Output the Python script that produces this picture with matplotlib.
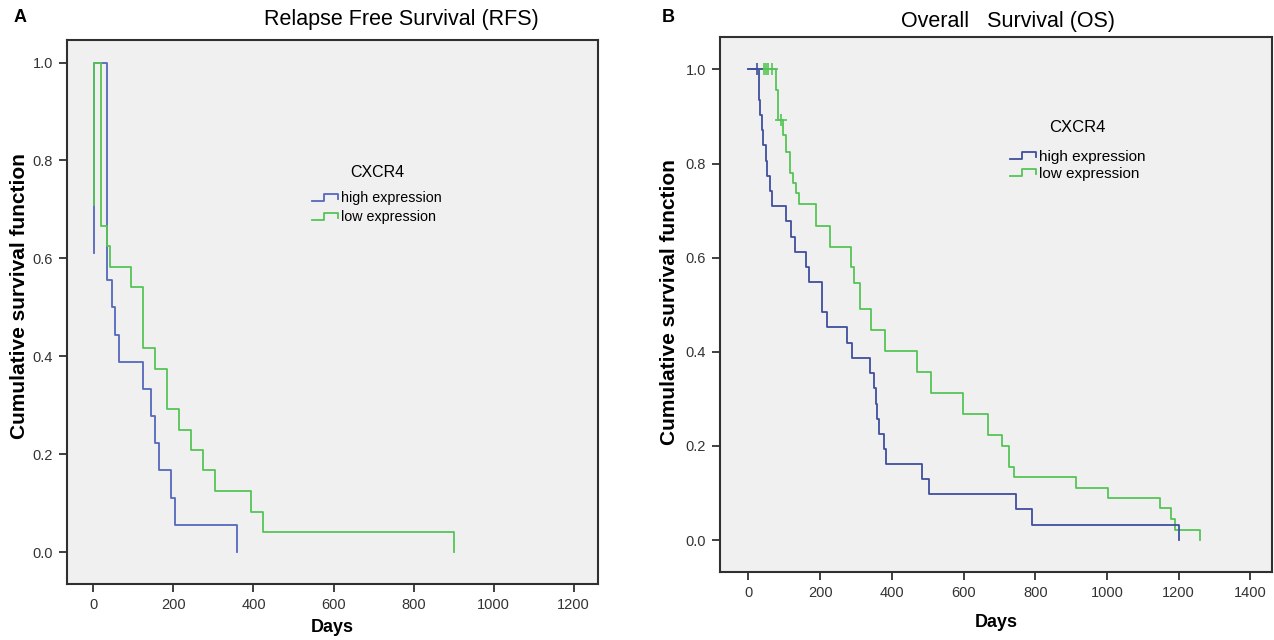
import numpy as np
import matplotlib.pyplot as plt
from matplotlib.lines import Line2D
from matplotlib.legend_handler import HandlerBase

plt.rcParams['font.family'] = ['Liberation Sans', 'DejaVu Sans']

#### data
# A: relapse free survival
rfs_high_t = [2, 2, 34, 47, 53, 64, 125, 144, 154, 164, 194, 205, 360]
rfs_high_s = [0.61, 1.0, 0.556, 0.5, 0.444, 0.389, 0.333, 0.278, 0.222, 0.167, 0.111, 0.056, 0.0]
rfs_low_t = [2, 2, 19, 34, 41, 94, 125, 155, 184, 214, 245, 275, 305, 395, 425, 900]
rfs_low_s = [0.71, 1.0, 0.667, 0.625, 0.583, 0.542, 0.417, 0.375, 0.292, 0.25, 0.208, 0.167,
             0.125, 0.083, 0.042, 0.0]

# B: overall survival
os_high_t = [0, 30, 33, 37, 41, 49, 53, 60, 66, 106, 120, 131, 160, 168, 204, 218, 274, 288,
             340, 350, 355, 360, 365, 379, 385, 483, 503, 745, 792, 1201]
os_high_s = [1.0, 0.935, 0.903, 0.871, 0.839, 0.806, 0.774, 0.742, 0.710, 0.677, 0.645, 0.613,
             0.581, 0.548, 0.484, 0.452, 0.419, 0.387, 0.355, 0.323, 0.290, 0.258, 0.226, 0.194,
             0.161, 0.129, 0.097, 0.065, 0.032, 0.0]
os_low_t = [0, 76, 83, 97, 105, 116, 125, 134, 142, 188, 227, 285, 294, 311, 343, 381, 469, 508,
            599, 669, 706, 727, 741, 913, 1003, 1148, 1178, 1189, 1259]
os_low_s = [1.0, 0.956, 0.893, 0.861, 0.825, 0.779, 0.758, 0.737, 0.714, 0.667, 0.623, 0.581,
            0.546, 0.49, 0.446, 0.402, 0.357, 0.312, 0.268, 0.223, 0.2, 0.156, 0.133, 0.111,
            0.089, 0.067, 0.044, 0.022, 0.0]
# censored cases
os_high_cens_t = [24]
os_high_cens_s = [1.0]
os_low_cens_t = [44, 50, 56, 66, 90]
os_low_cens_s = [1.0, 1.0, 1.0, 1.0, 0.893]

groups = ['high expression', 'low expression']
ticks_y = [0.0, 0.2, 0.4, 0.6, 0.8, 1.0]
ticks_a = [0, 200, 400, 600, 800, 1000, 1200]
ticks_b = [0, 200, 400, 600, 800, 1000, 1200, 1400]
####

blue = '#5468bd'
green = '#55c455'
W, H = 1274.0, 640.0


class StepHandler(HandlerBase):
    # little step icon like the SPSS legend
    def create_artists(self, legend, orig_handle, xdescent, ydescent, width, height, fontsize, trans):
        x = np.array([0, 0.45, 0.45, 1.0, 1.0]) * width - xdescent
        y = np.array([0.15, 0.15, 0.8, 0.8, 0.35]) * height - ydescent
        ln = Line2D(x, y, color=orig_handle.get_color(), lw=1.3)
        ln.set_transform(trans)
        return [ln]


def style(ax, xlim, ylim, xticks):
    ax.set_facecolor('#f0f0f0')
    for s in ax.spines.values():
        s.set_linewidth(1.5)
        s.set_color('#303030')
    ax.set_xlim(*xlim)
    ax.set_ylim(*ylim)
    ax.set_xticks(xticks)
    ax.set_yticks(ticks_y)
    ax.set_yticklabels(['%.1f' % v for v in ticks_y])
    ax.tick_params(direction='out', length=6, width=1.3, color='#303030',
                   labelsize=10.5, labelcolor='#333333', pad=4)
    ax.set_xlabel('Days', fontsize=13, fontweight='bold')
    ax.set_ylabel('Cumulative survival function', fontsize=15, fontweight='bold')


fig = plt.figure(figsize=(12.74, 6.4), dpi=100)

# panel A
axA = fig.add_axes([67 / W, (H - 584) / H, 531 / W, 544 / H])
style(axA, (-66, 1261), (-0.065, 1.046), ticks_a)
axA.plot(rfs_high_t, rfs_high_s, drawstyle='steps-post', color=blue, lw=1.3, label=groups[0])
axA.plot(rfs_low_t, rfs_low_s, drawstyle='steps-post', color=green, lw=1.3, label=groups[1])
axA.xaxis.set_label_coords(0.5, -0.064)
axA.yaxis.set_label_coords(-0.072, 0.53)
hA, lA = axA.get_legend_handles_labels()
legA = axA.legend(hA, lA, title='CXCR4', loc='upper left', frameon=False,
                  bbox_to_anchor=(305 / W, 1 - 158 / H), bbox_transform=fig.transFigure,
                  handler_map={Line2D: StepHandler()}, fontsize=10.3, title_fontsize=11.5,
                  handlelength=1.8, handletextpad=0.2, labelspacing=0.35, borderpad=0)
legA._legend_box.sep = 8

# panel B
axB = fig.add_axes([720 / W, (H - 572) / H, 552 / W, 535 / H])
style(axB, (-79, 1460), (-0.068, 1.069), ticks_b)
axB.plot(os_low_t, os_low_s, drawstyle='steps-post', color=green, lw=1.3, label=groups[1])
axB.plot(os_high_t, os_high_s, drawstyle='steps-post', color='#3f4f9e', lw=1.3, label=groups[0])
axB.plot(os_low_cens_t, os_low_cens_s, ls='none', marker='+', ms=8, mew=1.2, color=green)
axB.plot(os_high_cens_t, os_high_cens_s, ls='none', marker='+', ms=8, mew=1.2, color='#3f4f9e')
axB.xaxis.set_label_coords(0.5, -0.078)
axB.yaxis.set_label_coords(-0.075, 0.505)
hB, lB = axB.get_legend_handles_labels()
legB = axB.legend(hB[::-1], lB[::-1], title='CXCR4', loc='upper left', frameon=False,
                  bbox_to_anchor=(1002 / W, 1 - 112 / H), bbox_transform=fig.transFigure,
                  handler_map={Line2D: StepHandler()}, fontsize=11, title_fontsize=12,
                  handlelength=1.75, handletextpad=0.2, labelspacing=0.2, borderpad=0)
legB._legend_box.sep = 11

# titles and panel letters
fig.text(401 / W, 1 - 20 / H, 'Relapse Free Survival (RFS)', ha='center', va='center', fontsize=15.5)
fig.text(1008 / W, 1 - 22 / H, 'Overall   Survival (OS)', ha='center', va='center', fontsize=15.5)
fig.text(20 / W, 1 - 18 / H, 'A', ha='center', va='center', fontsize=13, fontweight='bold')
fig.text(668 / W, 1 - 18 / H, 'B', ha='center', va='center', fontsize=13, fontweight='bold')

fig.savefig('out.png', dpi=100)
